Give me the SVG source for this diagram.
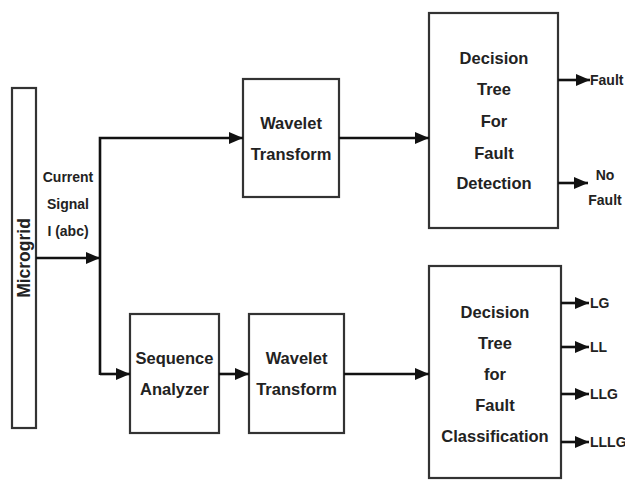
<svg xmlns="http://www.w3.org/2000/svg" width="625" height="480" viewBox="0 0 625 480">
<style>
.box{fill:#fff;stroke:#333;stroke-width:2.2}
.t{font-family:"Liberation Sans",Arial,sans-serif;font-weight:bold;font-size:16.5px;fill:#222;text-anchor:middle;dominant-baseline:central}
.s{font-family:"Liberation Sans",Arial,sans-serif;font-weight:bold;font-size:14px;fill:#222;dominant-baseline:central}
.c{fill:none;stroke:#111;stroke-width:2.6}
</style>
<defs>
<marker id="ah" markerUnits="userSpaceOnUse" markerWidth="14" markerHeight="12" refX="14" refY="6" orient="auto">
<path d="M0,0 L14,6 L0,12 z" fill="#111"/>
</marker>
</defs>
<rect width="625" height="480" fill="#fff"/>
<g id="microgrid">
<rect class="box" x="12" y="88" width="24" height="340"/>
<text class="t" transform="translate(24,258) rotate(-90)" style="font-size:17.5px">Microgrid</text>
</g>
<g id="wavelet1">
<rect class="box" x="243" y="79" width="96" height="118"/>
<text class="t" x="291" y="123">Wavelet</text>
<text class="t" x="291" y="154">Transform</text>
</g>
<g id="detection">
<rect class="box" x="429" y="13" width="129" height="215"/>
<text class="t" x="494" y="58">Decision</text>
<text class="t" x="494" y="89">Tree</text>
<text class="t" x="494" y="121">For</text>
<text class="t" x="494" y="153">Fault</text>
<text class="t" x="494" y="183">Detection</text>
</g>
<g id="sequence">
<rect class="box" x="130" y="314" width="89" height="119"/>
<text class="t" x="174.5" y="358">Sequence</text>
<text class="t" x="174.5" y="389">Analyzer</text>
</g>
<g id="wavelet2">
<rect class="box" x="249" y="314" width="95" height="119"/>
<text class="t" x="296.5" y="358">Wavelet</text>
<text class="t" x="296.5" y="389">Transform</text>
</g>
<g id="classification">
<rect class="box" x="429" y="266" width="132" height="212"/>
<text class="t" x="495" y="312">Decision</text>
<text class="t" x="495" y="343">Tree</text>
<text class="t" x="495" y="374">for</text>
<text class="t" x="495" y="405">Fault</text>
<text class="t" x="495" y="436">Classification</text>
</g>
<g id="labels">
<text class="s" x="68" y="177" text-anchor="middle">Current</text>
<text class="s" x="68" y="204" text-anchor="middle">Signal</text>
<text class="s" x="68" y="231" text-anchor="middle">I (abc)</text>
<text class="s" x="590" y="80">Fault</text>
<text class="s" x="605" y="175" text-anchor="middle">No</text>
<text class="s" x="605" y="200" text-anchor="middle">Fault</text>
<text class="s" x="590" y="303">LG</text>
<text class="s" x="590" y="347">LL</text>
<text class="s" x="590" y="394">LLG</text>
<text class="s" x="590" y="442">LLLG</text>
</g>
<g id="connectors">
<path class="c" d="M36,258 H100" marker-end="url(#ah)"/>
<path class="c" d="M100,375 V138 H243" marker-end="url(#ah)"/>
<path class="c" d="M100,374 H130" marker-end="url(#ah)"/>
<path class="c" d="M339,138 H429" marker-end="url(#ah)"/>
<path class="c" d="M219,374 H249" marker-end="url(#ah)"/>
<path class="c" d="M344,374 H429" marker-end="url(#ah)"/>
<path class="c" d="M558,80 H590" marker-end="url(#ah)"/>
<path class="c" d="M558,183 H588" marker-end="url(#ah)"/>
<path class="c" d="M561,303 H589" marker-end="url(#ah)"/>
<path class="c" d="M561,347 H589" marker-end="url(#ah)"/>
<path class="c" d="M561,394 H589" marker-end="url(#ah)"/>
<path class="c" d="M561,442 H589" marker-end="url(#ah)"/>
</g>
</svg>
